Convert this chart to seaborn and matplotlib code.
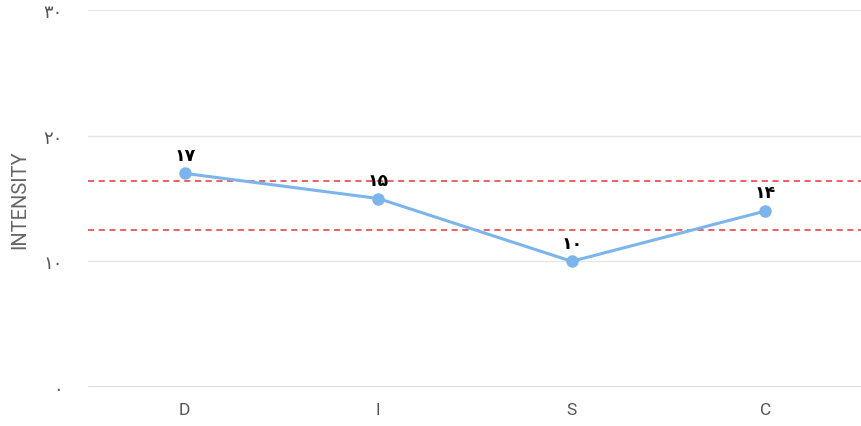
import matplotlib
matplotlib.use("Agg")
import numpy as np
import pandas as pd
import seaborn as sns
import matplotlib.pyplot as plt

categories = ["D", "I", "S", "C"]
intensity = [17, 15, 10, 14]
point_labels = ["۱۷", "۱۵", "۱۰", "۱۴"]
y_ticks = [0, 10, 20, 30]
y_tick_labels = ["۰", "۱۰", "۲۰", "۳۰"]
ref_lines = [16.4, 12.5]

df = pd.DataFrame({"cat": categories, "val": intensity})

sns.set_theme(style="white")
plt.rcParams["font.family"] = ["Roboto", "DejaVu Sans"]

fig = plt.figure(figsize=(8.62, 4.27), dpi=100)
ax = fig.add_axes([88 / 862, 39 / 427, 774 / 862, 377 / 427])

x = np.arange(len(categories))
df["x"] = x

for t in y_ticks[1:]:
    ax.axhline(t, color="#e6e6e6", lw=1, zorder=0)
ax.axhline(0, color="#ccd6eb", lw=1.2, zorder=0)

for r in ref_lines:
    ax.axhline(r, color="#e8343a", lw=1.1, ls=(0, (4, 3)), zorder=1)

sns.lineplot(data=df, x="x", y="val", ax=ax, color="#7cb5ec", lw=2.2,
             marker="o", markersize=9, markeredgewidth=0, zorder=3)

for xi, v, lab in zip(x, intensity, point_labels):
    ax.annotate(lab, (xi, v), xytext=(0, 7), textcoords="offset points",
                ha="center", va="bottom", fontsize=12.5, fontweight="bold",
                color="black", family=["DejaVu Sans"])

ax.set_xlim(-0.5, len(categories) - 0.5)
ax.set_ylim(0, 30)
ax.set_xticks(x)
ax.set_xticklabels(categories, color="#555555", fontsize=12.5)
ax.set_yticks(y_ticks)
ax.set_yticklabels(y_tick_labels, color="#555555", fontsize=13, family=["DejaVu Sans"])
ax.tick_params(axis="both", length=0)
ax.tick_params(axis="y", pad=18)
ax.tick_params(axis="x", pad=11)
ax.set_xlabel("")
ax.set_ylabel("INTENSITY", color="#666666", fontsize=14.5, labelpad=10)
for s in ax.spines.values():
    s.set_visible(False)

fig.savefig("out.png", dpi=100)
